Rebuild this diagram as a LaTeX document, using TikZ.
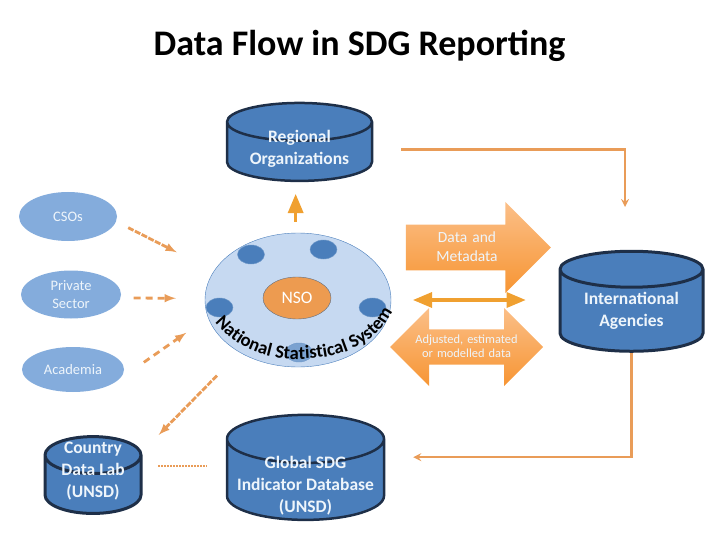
\documentclass[tikz,border=0pt]{standalone}
\usepackage{fontspec}
\setmainfont{Carlito}
\usetikzlibrary{shapes.geometric, shapes.arrows, arrows}
\usetikzlibrary{decorations.text}

\definecolor{barrel}{HTML}{4A7EBB}
\definecolor{barrelline}{HTML}{1E2F48}
\definecolor{softblue}{HTML}{84ACDC}
\definecolor{paleblue}{HTML}{C6D9F1}
\definecolor{flowline}{HTML}{E99C58}
\definecolor{strongflow}{HTML}{F0A030}
\definecolor{labelwhite}{HTML}{EEF5FB}
\definecolor{nsoorange}{HTML}{ED9B50}
\definecolor{arrowlight}{HTML}{FBBF88}
\definecolor{arrowdeep}{HTML}{F79533}

% text that takes less room in a barrel than it shows
\newcommand{\slimlines}[3]{\raisebox{#1}[10pt][10pt]{\parbox{#2}{\centering #3}}}

\begin{document}
\begin{tikzpicture}[
                x=1pt,
                y=-1pt,
                >=triangle 45,
                barrelnode/.style={
                        draw=barrelline,
                        line width=2.5pt,
                        cylinder,
                        shape border rotate=90,
                        cylinder uses custom fill,
                        cylinder body fill=barrel,
                        cylinder end fill=barrel,
                        inner sep=0pt,
                        align=center,
                        text=labelwhite,
                        font=\fontsize{17.5}{22}\selectfont\bfseries
                    },
                softnode/.style={
                        ellipse,
                        fill=softblue,
                        inner sep=0pt,
                        align=center,
                        text=labelwhite,
                        font=\fontsize{14.5}{18}\selectfont
                    },
                memberdot/.style={
                        ellipse,
                        fill=barrel,
                        draw=barrel!80!white,
                        inner sep=0pt,
                        minimum width=27pt,
                        minimum height=19pt
                    },
                bigarrow/.style={
                        draw=none,
                        top color=arrowlight,
                        bottom color=arrowdeep,
                        align=center,
                        text=labelwhite
                    },
                flow/.style={
                        draw=flowline,
                        line width=2.5pt,
                        -stealth
                    },
                tipflow/.style={
                        draw=flowline,
                        line width=2.8pt,
                        dash pattern=on 7pt off 5pt,
                        -latex
                    },
                densetip/.style={
                        tipflow,
                        dash pattern=on 6pt off 1.5pt
                    },
                strongarrow/.style={
                        draw=strongflow,
                        line width=3.5pt
                    }
            ]
            \useasboundingbox (0,0) rectangle (720,540);

            % Title
            \node[font=\fontsize{36}{36}\selectfont\bfseries, inner sep=0pt] (title) at (359.5,46) {Data Flow in SDG Reporting};

            % Databases
            \node[barrelnode, aspect=0.27, minimum width=145pt, minimum height=70pt] (regional) at (299.5,152) {\slimlines{-1pt}{140pt}{Regional\\Organizations}};
            \node[barrelnode, aspect=0.38, minimum width=143pt, minimum height=100pt, line width=3pt] (intl) at (631.5,311) {International\\Agencies};
            \node[barrelnode, aspect=0.41, minimum width=96pt, minimum height=75pt, line width=3pt] (lab) at (93,485) {\slimlines{10pt}{90pt}{Country\\Data Lab\\(UNSD)}};
            \node[barrelnode, aspect=0.32, minimum width=157pt, minimum height=105pt] (global) at (305.5,480) {\slimlines{-10pt}{150pt}{Global SDG\\Indicator Database\\(UNSD)}};

            % Outside producers
            \node[softnode, minimum width=98pt, minimum height=49pt] (cso) at (68,216.5) {CSOs};
            \node[softnode, minimum width=100pt, minimum height=48pt] (private) at (71,294.5) {Private\\Sector};
            \node[softnode, minimum width=102pt, minimum height=45pt] (academia) at (73,369.5) {Academia};

            % National system with its members
            \node[ellipse, fill=paleblue, draw=barrel, minimum width=186pt, minimum height=134pt, inner sep=0pt] (nss) at (298,300) {};
            \node[memberdot] (memberA) at (251,254.5) {};
            \node[memberdot] (memberB) at (323.5,249.5) {};
            \node[memberdot] (memberC) at (219.5,307.5) {};
            \node[memberdot] (memberD) at (372.5,307.5) {};
            \node[memberdot, fill opacity=0.6] (memberE) at (299,352.5) {};
            \node[ellipse, fill=nsoorange, draw=barrelline!70!white, minimum width=68pt, minimum height=42pt, inner sep=0pt, text=white, font=\fontsize{17.5}{18}\selectfont] (nso) at (297,298) {NSO};
            \path[decorate, decoration={text along path, text align=center,
                    text={|\fontsize{18.6}{19}\selectfont\bfseries|National Statistical System}}]
                (217,325) .. controls (240,352) and (275,360) .. (300,359) .. controls (340,358) and (372,347) .. (391,314);

            % Block arrows
            \node[bigarrow, single arrow, single arrow head extend=22pt, minimum height=145pt, minimum width=91pt, single arrow tip angle=90, inner sep=0pt, text height=17pt, text depth=27pt, text width=80pt, font=\fontsize{15.5}{19}\selectfont] (datablock) at (467,247.5) {Data and\\Metadata};
            \node[bigarrow, double arrow, double arrow head extend=19pt, minimum height=153pt, minimum width=78pt, double arrow tip angle=90, inner ysep=0pt, inner xsep=-15pt, text height=12pt, text depth=19pt, text width=106pt, font=\fontsize{12.4}{14}\selectfont] (adjusted) at (466.5,347) {Adjusted, estimated\\or modelled data};

            % Free end above the international agencies
            \coordinate (intlin) at (625,207);

            % Connectors
            \draw[densetip, shorten <=13.5pt, shorten >=41.6pt] (cso.-6) -- (nss.161.8);
            \draw[tipflow, shorten <=13pt, shorten >=29pt] (private.-4.6) -- (nss.179);
            \draw[tipflow, shorten <=35pt, shorten >=26.6pt] (academia.-17) -- (nss.191.3);
            \draw[densetip, shorten <=32.5pt, shorten >=24pt] (nss.222.4) -- (lab.34.5);
            \draw[draw=flowline, line width=2.5pt, dash pattern=on 2pt off 1pt, shorten <=16pt, shorten >=19pt] (lab.21.6) -- (lab.21.6 -| global.west);
            \draw[strongarrow, ->, shorten <=11pt, shorten >=12pt] (nss.92) -- (nss.92 |- regional.south);
            \draw[strongarrow, <->, shorten <=22pt, shorten >=33pt] (nss.east) -- (nss.east -| intl.west);
            \draw[flow, shorten <=28pt] (regional.2.4) -| (intlin);
            \draw[flow, shorten >=28pt] (intl.270) |- (global.16);

        \end{tikzpicture}
\end{document}
